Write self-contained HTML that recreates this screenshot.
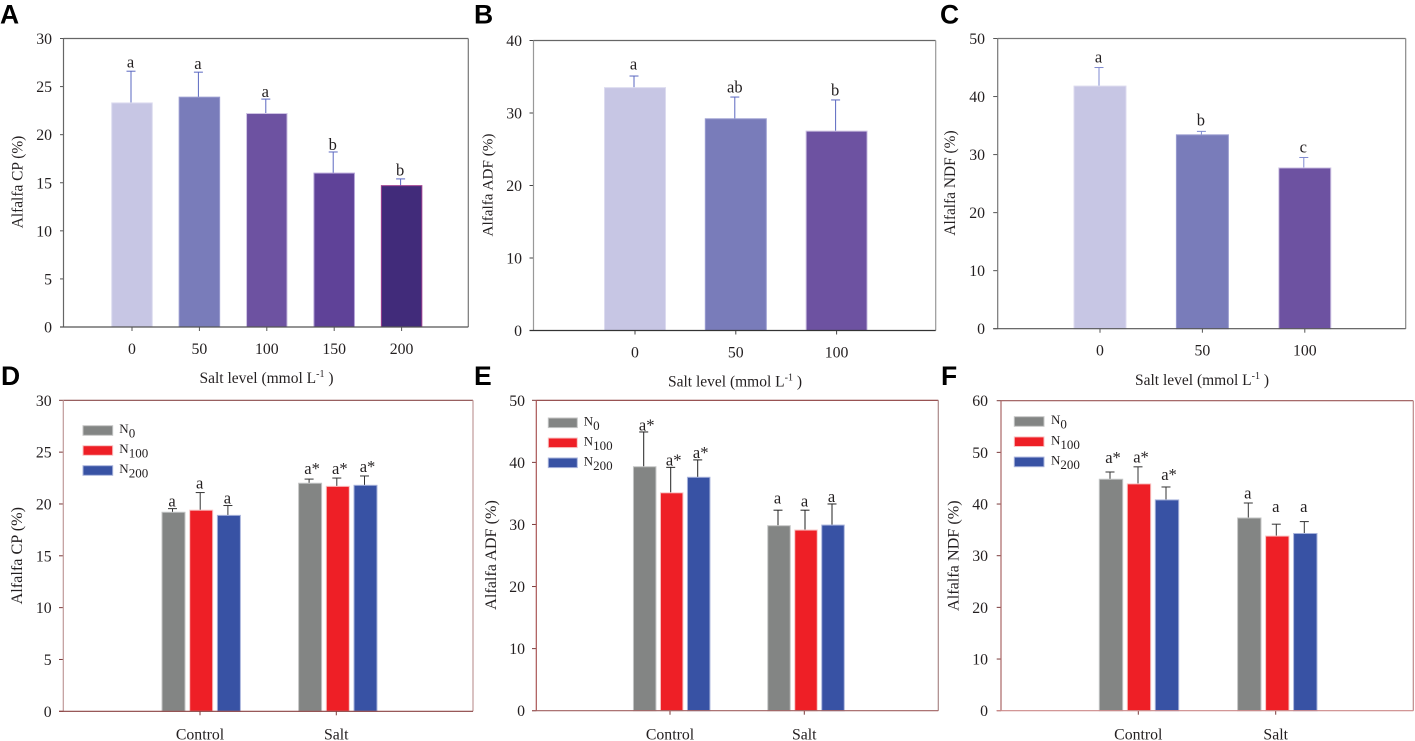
<!DOCTYPE html>
<html lang="en">
<head>
<meta charset="utf-8">
<title>Alfalfa forage quality under salt and nitrogen treatments</title>
<style>
html,body{margin:0;padding:0;background:#fff;width:1415px;height:741px;overflow:hidden}
svg{display:block}
text{font-family:"Liberation Serif",serif;fill:#231f20}
.panel-letter{font-family:"Liberation Sans",sans-serif;font-weight:700;font-size:26.5px;fill:#000}
</style>
</head>
<body>
<svg id="figure" xmlns="http://www.w3.org/2000/svg" width="1415" height="741" viewBox="0 0 1415 741"></svg>
<script>
// ---- Panel A: CP by salt level ----
const aCategories = ['0', '50', '100', '150', '200'];
const aValues = [23.3, 23.9, 22.2, 16.0, 14.7];
const aErrors = [3.3, 2.6, 1.5, 2.2, 0.7];
const aLetters = ['a', 'a', 'a', 'b', 'b'];
const aLetterClearance = [0.38, 0.35, 0.2, 0.2, 0.35];
const aTicks = [0, 5, 10, 15, 20, 25, 30];

// ---- Panel B: ADF by salt level ----
const bCategories = ['0', '50', '100'];
const bValues = [33.5, 29.2, 27.5];
const bErrors = [1.6, 3.0, 4.3];
const bLetters = ['a', 'ab', 'b'];
const bLetterClearance = [0.9, 0.6, 0.6];
const bTicks = [0, 10, 20, 30, 40];

// ---- Panel C: NDF by salt level ----
const cCategories = ['0', '50', '100'];
const cValues = [41.8, 33.4, 27.7];
const cErrors = [3.2, 0.6, 1.8];
const cLetters = ['a', 'b', 'c'];
const cLetterClearance = [0.86, 1.03, 0.86];
const cTicks = [0, 10, 20, 30, 40, 50];

// ---- Grouped panels share categories and series names ----
const groupCategories = ['Control', 'Salt'];
const seriesNames = ['N0', 'N100', 'N200'];

// ---- Panel D: CP ----
const dN0 = [19.2, 22.0];
const dN100 = [19.4, 21.7];
const dN200 = [18.9, 21.8];
const dErrN0 = [0.35, 0.4];
const dErrN100 = [1.7, 0.8];
const dErrN200 = [0.95, 0.9];
const dLettersN0 = ['a', 'a*'];
const dLettersN100 = ['a', 'a*'];
const dLettersN200 = ['a', 'a*'];
const dClearN0 = [0.2, 0.5];
const dClearN100 = [0.4, 0.4];
const dClearN200 = [0.2, 0.4];
const dTicks = [0, 5, 10, 15, 20, 25, 30];

// ---- Panel E: ADF ----
const eN0 = [39.3, 29.8];
const eN100 = [35.1, 29.1];
const eN200 = [37.6, 29.9];
const eErrN0 = [5.6, 2.5];
const eErrN100 = [4.1, 3.2];
const eErrN200 = [2.8, 3.4];
const eLettersN0 = ['a*', 'a'];
const eLettersN100 = ['a*', 'a'];
const eLettersN200 = ['a*', 'a'];
const eClearN0 = [0.2, 1.1];
const eClearN100 = [0.3, 0.6];
const eClearN200 = [0.3, 0.3];
const eTicks = [0, 10, 20, 30, 40, 50];

// ---- Panel F: NDF ----
const fN0 = [44.8, 37.3];
const fN100 = [43.9, 33.8];
const fN200 = [40.8, 34.3];
const fErrN0 = [1.4, 2.9];
const fErrN100 = [3.3, 2.3];
const fErrN200 = [2.5, 2.3];
const fLettersN0 = ['a*', 'a'];
const fLettersN100 = ['a*', 'a'];
const fLettersN200 = ['a*', 'a'];
const fClearN0 = [1.74, 0.9];
const fClearN100 = [0.84, 2.4];
const fClearN200 = [1.4, 1.9];
const fTicks = [0, 10, 20, 30, 40, 50, 60];

const SVGNS = 'http://www.w3.org/2000/svg';
const root = document.getElementById('figure');

function make(tag, attrs, parent, content) {
  const el = document.createElementNS(SVGNS, tag);
  for (const k in attrs) el.setAttribute(k, attrs[k]);
  if (content !== undefined) el.textContent = content;
  (parent || root).appendChild(el);
  return el;
}

function drawFrame(g, geo, ticks, yTitle, letter) {
  const y = v => geo.bottom - (v / ticks[ticks.length - 1]) * (geo.bottom - geo.top);

  const letterEl = make('text', {x: geo.letterX, y: geo.letterY, class: 'panel-letter'}, g, letter);
  
  

  ticks.forEach(t => {
    const tickMark = make('line', {x1: geo.left - geo.tickLen, x2: geo.left, y1: y(t), y2: y(t), stroke: geo.tickColor, 'stroke-width': 1}, g);
    
    
    const tickText = make('text', {x: geo.yLabelRight, y: y(t) + 5.5, 'text-anchor': 'end', 'font-size': 15.8}, g, String(t));
    
    
  });

  const title = make('text', {
    transform: 'translate(' + geo.yTitleX + ',' + geo.yTitleY + ') rotate(-90)',
    'text-anchor': 'middle', 'font-size': geo.yTitleSize
  }, g, yTitle);
  
  
  return y;
}

function drawAxes(g, geo) {
  const sides = [
    [geo.left, geo.top, geo.right, geo.top, geo.axisColors[0]],
    [geo.right, geo.top, geo.right, geo.bottom, geo.axisColors[1]],
    [geo.left, geo.top, geo.left, geo.bottom, geo.axisColors[2]],
    [geo.left - geo.tickLen, geo.bottom, geo.right, geo.bottom, geo.axisColors[3]]
  ];
  sides.forEach(s => {
    const side = make('line', {x1: s[0], y1: s[1], x2: s[2], y2: s[3], stroke: s[4], 'stroke-width': 1.2}, g);
    
    
  });
}

function drawBar(g, geo, y, cx, value, err, letter, clearance, fill, edge, name) {
  const w = geo.barWidth;
  const ex = cx - 1;
  const capY = y(value + err);
  const capHalf = 4.5;
  const errLine = make('line', {x1: ex, x2: ex, y1: y(value), y2: capY, stroke: geo.errColor, 'stroke-width': 1}, g);
  
  
  const errCap = make('line', {x1: ex - capHalf, x2: ex + capHalf, y1: capY, y2: capY, stroke: geo.errColor, 'stroke-width': 1}, g);
  
  
  const bar = make('rect', {x: cx - w / 2, y: y(value), width: w, height: geo.bottom - y(value), fill: fill, stroke: edge, 'stroke-width': 1}, g);
  
  
  const shift = letter.length > 1 && letter.indexOf('*') > 0 ? 3 : (letter === 'ab' ? 0 : -0.5);
  const mark = make('text', {x: ex + shift, y: y(value + err + clearance), 'text-anchor': 'middle', 'font-size': 16.5}, g, letter);
  
  
}

function drawXTick(g, geo, x, label) {
  const tick = make('line', {x1: x, x2: x, y1: geo.bottom, y2: geo.bottom + 4, stroke: geo.tickColor, 'stroke-width': 1}, g);
  
  
  const txt = make('text', {x: x, y: geo.xLabelY, 'text-anchor': 'middle', 'font-size': 15.8}, g, label);
  
  
}

function drawXTitle(g, geo) {
  const t = make('text', {x: geo.xTitleX, y: geo.xTitleY, 'text-anchor': 'middle', 'font-size': 15.5}, g);
  
  
  make('tspan', {}, t, 'Salt level (mmol L');
  make('tspan', {dy: -6, 'font-size': 10}, t, '-1');
  make('tspan', {dy: 6}, t, '\u00a0)');
}

function drawSimple(letter, yTitle, categories, values, errors, letters, clearance, ticks, geo) {
  const g = make('g', {});
  
  
  const y = drawFrame(g, geo, ticks, yTitle, letter);
  const x = i => geo.firstX + i * geo.stepX;
  const fills = ['#c7c6e4', '#797cba', '#6d52a1', '#5f4298', '#412b7a'];
  const edges = ['#dcdbef', '#9a9cd0', '#cfc4e4', '#b3a2d6', '#a0408f'];
  values.forEach((v, i) => {
    drawBar(g, geo, y, x(i), v, errors[i], letters[i], clearance[i], fills[i], edges[i], 'bar-' + categories[i]);
    drawXTick(g, geo, x(i), categories[i]);
  });
  drawAxes(g, geo);
  drawXTitle(g, geo);
}

function drawGrouped(letter, yTitle, series, errs, letterSets, clearSets, ticks, geo) {
  const g = make('g', {});
  
  
  const y = drawFrame(g, geo, ticks, yTitle, letter);
  const fills = ['#838584', '#ee1f26', '#3852a4'];
  const edges = ['#c4c5c5', '#f9c5c5', '#a9b4dc'];
  const x = (gi, si) => geo.firstX + gi * geo.stepX + (si - 1) * geo.seriesStep;
  groupCategories.forEach((cat, gi) => {
    series.forEach((vals, si) => {
      drawBar(g, geo, y, x(gi, si), vals[gi], errs[si][gi], letterSets[si][gi], clearSets[si][gi], fills[si], edges[si], 'bar-' + cat.toLowerCase() + '-' + seriesNames[si].toLowerCase());
    });
    drawXTick(g, geo, geo.tickX + gi * geo.tickStep, cat);
  });
  drawAxes(g, geo);
  seriesNames.forEach((name, si) => {
    const sy = geo.legendY + si * geo.legendStep;
    const swatch = make('rect', {x: geo.legendX, y: sy, width: geo.legendW, height: 9.6, fill: fills[si], stroke: edges[si], 'stroke-width': 1}, g);
    
    
    const label = make('text', {x: geo.legendTextX, y: sy + 7.5, 'font-size': 13}, g);
    
    
    make('tspan', {}, label, 'N');
    make('tspan', {dy: 4.5, 'font-size': 13}, label, name.slice(1));
  });
}

drawSimple('A', 'Alfalfa CP (%)', aCategories, aValues, aErrors, aLetters, aLetterClearance, aTicks, {
  left: 63.5, right: 468.3, top: 38.5, bottom: 327, tickLen: 3.5, firstX: 132, stepX: 67.4, barWidth: 40.5,
  yLabelRight: 52, yTitleX: 22.5, yTitleY: 182, yTitleSize: 15.4, xLabelY: 354, xTitleX: 266.5, xTitleY: 383,
  letterX: 0, letterY: 23.5, errColor: '#5a67c0', tickColor: '#555',
  axisColors: ['#666', '#777', '#666', '#555']
});
drawSimple('B', 'Alfalfa ADF (%)', bCategories, bValues, bErrors, bLetters, bLetterClearance, bTicks, {
  left: 533.5, right: 935.7, top: 40.5, bottom: 330.5, tickLen: 4, firstX: 635, stepX: 100.8, barWidth: 61,
  yLabelRight: 522, yTitleX: 492.7, yTitleY: 185, yTitleSize: 15.2, xLabelY: 357.5, xTitleX: 735, xTitleY: 386.7,
  letterX: 474, letterY: 23.5, errColor: '#5a67c0', tickColor: '#444',
  axisColors: ['#666', '#999', '#999', '#333']
});
drawSimple('C', 'Alfalfa NDF (%)', cCategories, cValues, cErrors, cLetters, cLetterClearance, cTicks, {
  left: 997.7, right: 1405.7, top: 38.5, bottom: 328.7, tickLen: 4.5, firstX: 1100, stepX: 102.4, barWidth: 52,
  yLabelRight: 985, yTitleX: 955, yTitleY: 183, yTitleSize: 15.4, xLabelY: 355.5, xTitleX: 1202, xTitleY: 385,
  letterX: 940, letterY: 23.5, errColor: '#7f8ad0', tickColor: '#555',
  axisColors: ['#777', '#888', '#777', '#555']
});
drawGrouped('D', 'Alfalfa CP (%)', [dN0, dN100, dN200], [dErrN0, dErrN100, dErrN200],
  [dLettersN0, dLettersN100, dLettersN200], [dClearN0, dClearN100, dClearN200], dTicks, {
  left: 63.3, right: 473, top: 400.3, bottom: 711.3, tickLen: 4.3, firstX: 201.2, stepX: 136.6, seriesStep: 27.7, barWidth: 23,
  tickX: 200, tickStep: 136.3, yLabelRight: 51.7, yTitleX: 22, yTitleY: 555.7, yTitleSize: 16.2, xLabelY: 739.5,
  letterX: 1, letterY: 385, errColor: '#333', tickColor: '#7a3a3a',
  axisColors: ['#8a4a4a', '#c09a9a', '#c09a9a', '#8a4040'],
  legendX: 83, legendW: 29.7, legendY: 425.7, legendStep: 20, legendTextX: 119.3
});
drawGrouped('E', 'Alfalfa ADF (%)', [eN0, eN100, eN200], [eErrN0, eErrN100, eErrN200],
  [eLettersN0, eLettersN100, eLettersN200], [eClearN0, eClearN100, eClearN200], eTicks, {
  left: 536.3, right: 938.3, top: 400.3, bottom: 710.7, tickLen: 4.3, firstX: 671.7, stepX: 134.3, seriesStep: 27, barWidth: 22.5,
  tickX: 670, tickStep: 134.3, yLabelRight: 525, yTitleX: 496, yTitleY: 555, yTitleSize: 16.2, xLabelY: 739.5,
  letterX: 474, letterY: 385, errColor: '#222', tickColor: '#7a3a3a',
  axisColors: ['#8a3a3a', '#a88', '#a55', '#a06060'],
  legendX: 548.3, legendW: 29, legendY: 418, legendStep: 20, legendTextX: 583.7
});
drawGrouped('F', 'Alfalfa NDF (%)', [fN0, fN100, fN200], [fErrN0, fErrN100, fErrN200],
  [fLettersN0, fLettersN100, fLettersN200], [fClearN0, fClearN100, fClearN200], fTicks, {
  left: 1001, right: 1413.3, top: 400.7, bottom: 710.7, tickLen: 4.3, firstX: 1139, stepX: 138.3, seriesStep: 28, barWidth: 23.4,
  tickX: 1138.3, tickStep: 137.4, yLabelRight: 988, yTitleX: 958.7, yTitleY: 555.7, yTitleSize: 16.2, xLabelY: 739.5,
  letterX: 941, letterY: 385, errColor: '#333', tickColor: '#7a3a3a',
  axisColors: ['#955', '#b88', '#a66', '#c88'],
  legendX: 1014.3, legendW: 29.7, legendY: 416.7, legendStep: 20.2, legendTextX: 1051
});
</script>
</body>
</html>
